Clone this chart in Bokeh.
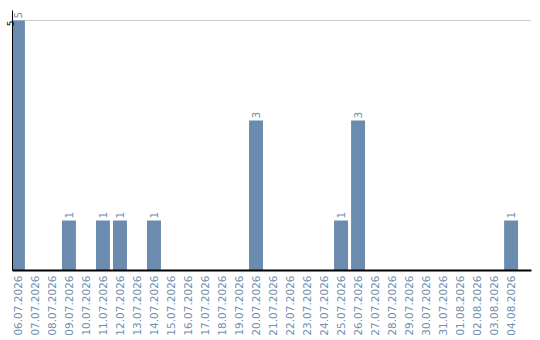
import math
from bokeh.plotting import figure
from bokeh.models import ColumnDataSource, FixedTicker, Range1d
from bokeh.core.properties import value
from bokeh.embed import file_html
from bokeh.resources import INLINE

# Daily counts, 06.07.2026 - 04.08.2026
dates = [
    "06.07.2026", "07.07.2026", "08.07.2026", "09.07.2026", "10.07.2026",
    "11.07.2026", "12.07.2026", "13.07.2026", "14.07.2026", "15.07.2026",
    "16.07.2026", "17.07.2026", "18.07.2026", "19.07.2026", "20.07.2026",
    "21.07.2026", "22.07.2026", "23.07.2026", "24.07.2026", "25.07.2026",
    "26.07.2026", "27.07.2026", "28.07.2026", "29.07.2026", "30.07.2026",
    "31.07.2026", "01.08.2026", "02.08.2026", "03.08.2026", "04.08.2026",
]
counts = [5, 0, 0, 1, 0, 1, 1, 0, 1, 0,
          0, 0, 0, 0, 3, 0, 0, 0, 0, 1,
          3, 0, 0, 0, 0, 0, 0, 0, 0, 1]

BAR = "#6b8cae"
LABEL = "#6f8fb0"

xs = list(range(len(dates)))
src = ColumnDataSource(dict(x=xs, top=counts))
lab_idx = [i for i, c in enumerate(counts) if c > 0]
lab_src = ColumnDataSource(dict(
    x=[xs[i] for i in lab_idx],
    y=[counts[i] for i in lab_idx],
    t=[str(counts[i]) for i in lab_idx],
))

p = figure(width=540, height=340, output_backend="svg", toolbar_location=None,
           x_range=Range1d(-0.32, 30.2), y_range=Range1d(0, 5.2),
           min_border_left=0, min_border_right=9, min_border_top=10,
           min_border_bottom=70)
p.outline_line_color = None
p.background_fill_color = "white"

p.vbar(x="x", top="top", width=0.82, source=src, color=BAR, line_color=None)
p.text(x="x", y="y", text="t", source=lab_src, angle=math.pi / 2,
       text_align="left", text_baseline="middle", y_offset=-2,
       text_font=value("DejaVu Sans"), text_font_size="10.5px", text_color=LABEL)

# x axis: one vertical label per day
p.xaxis.ticker = FixedTicker(ticks=xs)
p.xaxis.major_label_overrides = {i: d for i, d in enumerate(dates)}
p.xaxis.major_label_orientation = math.pi / 2
p.xaxis.major_label_text_font = "DejaVu Sans"
p.xaxis.major_label_text_font_size = "10.5px"
p.xaxis.major_label_text_color = LABEL
p.xaxis.major_label_standoff = 5
p.xaxis.axis_line_color = "black"
p.xaxis.axis_line_width = 2
p.xaxis.major_tick_out = 0
p.xaxis.major_tick_in = 0
p.xaxis.minor_tick_out = 0
p.xaxis.minor_tick_in = 0
p.xaxis.major_tick_line_color = None
p.xaxis.minor_tick_line_color = None
p.xgrid.grid_line_color = None

# y axis: only the maximum is marked
p.yaxis.ticker = FixedTicker(ticks=[5])
p.yaxis.major_label_orientation = math.pi / 2
p.yaxis.major_label_text_font = "DejaVu Sans"
p.yaxis.major_label_text_font_size = "9px"
p.yaxis.major_label_text_color = "black"
p.yaxis.major_label_standoff = 2
p.yaxis.axis_line_color = "black"
p.yaxis.major_tick_out = 0
p.yaxis.major_tick_in = 0
p.yaxis.minor_tick_out = 0
p.yaxis.minor_tick_in = 0
p.yaxis.major_tick_line_color = None
p.yaxis.minor_tick_line_color = None
p.ygrid.ticker = FixedTicker(ticks=[5])
p.ygrid.grid_line_color = "#cccccc"

open("out.html", "w").write(file_html(p, INLINE))
